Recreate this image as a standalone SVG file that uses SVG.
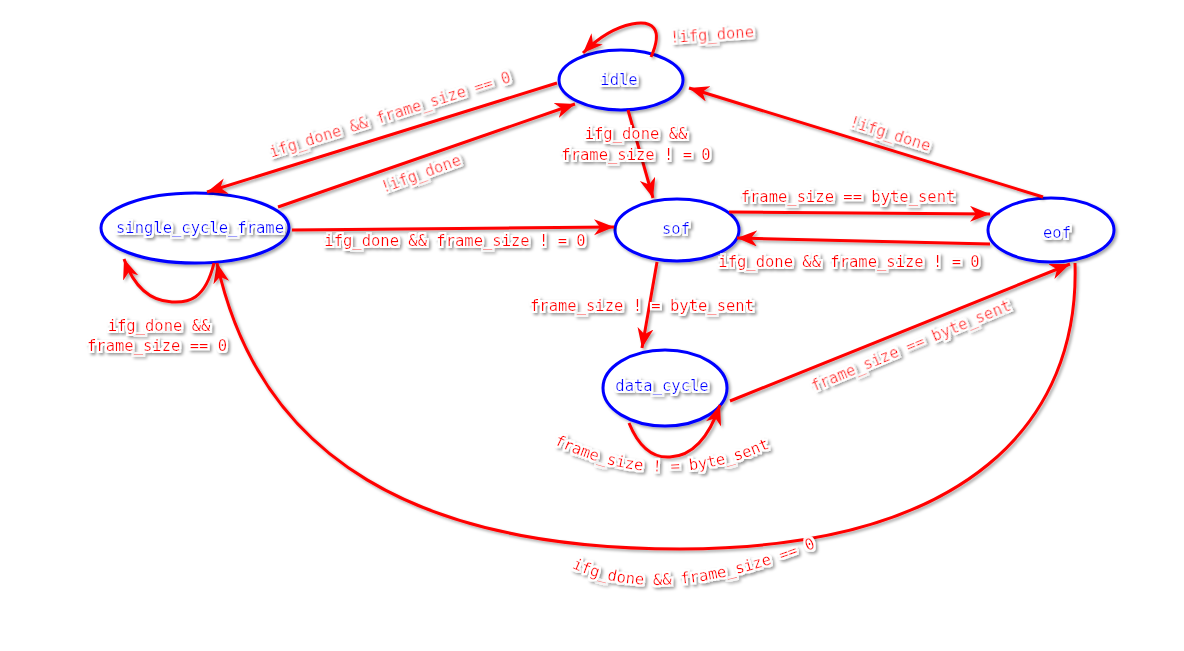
<svg xmlns="http://www.w3.org/2000/svg" width="1184" height="651" viewBox="0 0 1184 651">
<defs>
<filter id="sh" filterUnits="userSpaceOnUse" x="0" y="0" width="1184" height="651">
<feDropShadow dx="2" dy="2" stdDeviation="1.5" flood-color="#000" flood-opacity="0.35"/>
</filter>
<filter id="halo" filterUnits="userSpaceOnUse" x="-1200" y="-700" width="3600" height="2000">
<feMorphology in="SourceAlpha" operator="dilate" radius="2" result="d"/>
<feGaussianBlur in="d" stdDeviation="1.5" result="b"/>
<feOffset in="b" dx="2" dy="2" result="o"/>
<feFlood flood-color="#000" flood-opacity="0.4"/>
<feComposite in2="o" operator="in" result="shadow"/>
<feFlood flood-color="#fff"/>
<feComposite in2="d" operator="in" result="white"/>
<feMerge><feMergeNode in="shadow"/><feMergeNode in="white"/><feMergeNode in="SourceGraphic"/></feMerge>
</filter>
<marker id="arr" markerUnits="userSpaceOnUse" markerWidth="22" markerHeight="18" refX="20" refY="8" orient="auto" viewBox="0 0 22 18">
<path d="M0,0 L20,8 L0,16 L6,8 z" fill="#ff0000"/>
</marker>
<path id="p_dc" d="M552,443 Q660,498 772,447"/>
<path id="p_big" d="M568,566 Q660,612 820,546"/>
</defs>
<style>
.node ellipse{fill:#fff;stroke:#0000ff;stroke-width:3;filter:url(#sh)}
.node text{fill:#0000ff;font-family:"DejaVu Sans Mono","Liberation Mono",monospace;font-size:15.5px;text-anchor:middle;dominant-baseline:central;filter:url(#halo)}
.edges path{fill:none;stroke:#ff0000;stroke-width:3;marker-end:url(#arr);filter:url(#sh)}
.lbl{fill:#ff0000;font-family:"DejaVu Sans Mono","Liberation Mono",monospace;font-size:15.5px;text-anchor:middle;dominant-baseline:central;filter:url(#halo)}
</style>
<rect width="1184" height="651" fill="#fff"/>
<g id="idle" class="node"><ellipse cx="621" cy="80" rx="62" ry="30"/><text x="619" y="80">idle</text></g>
<g id="single_cycle_frame" class="node"><ellipse cx="195" cy="228" rx="94" ry="35"/><text x="200" y="228">single_cycle_frame</text></g>
<g id="sof" class="node"><ellipse cx="677" cy="230" rx="62" ry="31"/><text x="676" y="229">sof</text></g>
<g id="eof" class="node"><ellipse cx="1051" cy="230" rx="63" ry="32"/><text x="1057" y="233">eof</text></g>
<g id="data_cycle" class="node"><ellipse cx="665" cy="388" rx="62" ry="38"/><text x="662" y="386">data_cycle</text></g>
<g id="connectors" class="edges">
<path d="M651,57 C664,28 652,20 632,24 C612,28 596,40 583,53"/>
<path d="M557,83 L207,192"/>
<path d="M278,207 L575,104"/>
<path d="M292,230 L614,227"/>
<path d="M628,110 L653,198"/>
<path d="M729,212 L990,214"/>
<path d="M990,244 L737,238"/>
<path d="M1043,197 L689,88"/>
<path d="M657,262 L642,348"/>
<path d="M629,423 C640,450 655,458 670,457 C690,456 708,440 720,405"/>
<path d="M730,401 L1070,264"/>
<path d="M1075,263 C1080,420 970,548 680,549 C420,549 260,460 217,263"/>
<path d="M214,263 C205,300 188,303 172,302 C152,301 135,290 124,259"/>
</g>
<g id="labels">
<text class="lbl" transform="translate(712,35) rotate(-4)">!ifg_done</text>
<text class="lbl" transform="translate(390,115) rotate(-17.5)">ifg_done &amp;&amp; frame_size == 0</text>
<text class="lbl" transform="translate(421,174) rotate(-20)">!ifg_done</text>
<text class="lbl" x="455" y="241">ifg_done &amp;&amp; frame_size ! = 0</text>
<text class="lbl" x="636" y="134">ifg_done &amp;&amp;</text>
<text class="lbl" x="636" y="155">frame_size ! = 0</text>
<text class="lbl" x="848" y="197">frame_size == byte_sent</text>
<text class="lbl" x="849" y="262">ifg_done &amp;&amp; frame_size ! = 0</text>
<text class="lbl" transform="translate(890,134) rotate(17.4)">!ifg_done</text>
<text class="lbl" x="642" y="306">frame_size ! = byte_sent</text>
<text class="lbl" style="dominant-baseline:auto"><textPath href="#p_dc" startOffset="50%">frame_size ! = byte_sent</textPath></text>
<text class="lbl" transform="translate(911,346) rotate(-22.5)">frame_size == byte_sent</text>
<text class="lbl" x="159" y="326">ifg_done &amp;&amp;</text>
<text class="lbl" x="157" y="346">frame_size == 0</text>
<text class="lbl" style="dominant-baseline:auto"><textPath href="#p_big" startOffset="50%">ifg_done &amp;&amp; frame_size == 0</textPath></text>
</g>
</svg>
